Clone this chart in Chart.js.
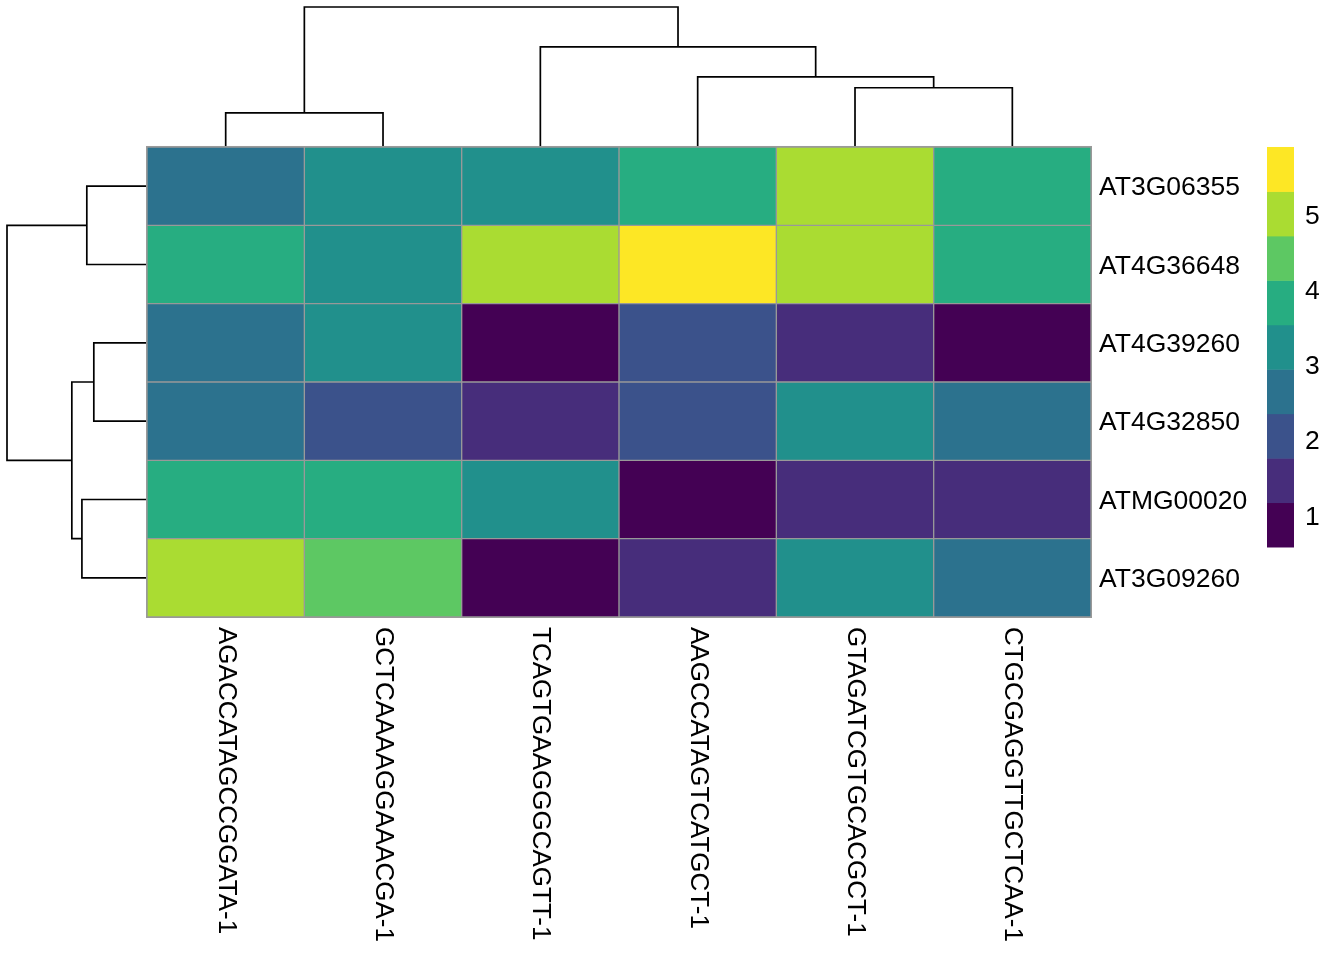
<!DOCTYPE html>
<html>
<head>
<meta charset="utf-8">
<title>Heatmap</title>
<script src="https://cdn.jsdelivr.net/npm/chart.js@4.4.1/dist/chart.umd.min.js"></script>
<style>
  html, body { margin: 0; padding: 0; background: #fff; }
  #wrap { width: 1344px; height: 960px; position: relative; }
</style>
</head>
<body>
<div id="wrap"><canvas id="heatmap"></canvas></div>
<script>
// row / column names in clustered order
const rowNames = ['AT3G06355', 'AT4G36648', 'AT4G39260', 'AT4G32850', 'ATMG00020', 'AT3G09260'];
const colNames = ['AGACCATAGCCGGATA-1', 'GCTCAAAAGGAAACGA-1', 'TCAGTGAAGGGCAGTT-1',
                  'AAGCCATAGTCATGCT-1', 'GTAGATCGTGCACGCT-1', 'CTGCGAGGTTGCTCAA-1'];

// values, one array per row (same order as colNames)
const rowAT3G06355 = [2.65, 3.25, 3.20, 3.90, 5.05, 3.85];
const rowAT4G36648 = [3.90, 3.30, 5.00, 5.92, 5.10, 3.80];
const rowAT4G39260 = [2.70, 3.20, 0.59, 2.00, 1.50, 0.69];
const rowAT4G32850 = [2.60, 2.10, 1.60, 2.05, 3.30, 2.70];
const rowATMG00020 = [3.85, 3.90, 3.25, 0.69, 1.50, 1.45];
const rowAT3G09260 = [5.00, 4.50, 0.69, 1.55, 3.30, 2.65];
const values = [rowAT3G06355, rowAT4G36648, rowAT4G39260, rowAT4G32850, rowATMG00020, rowAT3G09260];

// colour scale (9 viridis bins)
const scaleMin = 0.59;
const scaleMax = 5.92;
const binColors = ['#440154', '#472D7B', '#3B528B', '#2C728E', '#21908C', '#27AD81', '#5DC863', '#AADC32', '#FDE725'];
const legendTicks = [1, 2, 3, 4, 5];

// dendrograms, hclust style: negative = leaf (1-based, display order), positive = earlier merge
const colMerges = [[-1, -2], [-5, -6], [-4, 2], [-3, 3], [1, 4]];
const colHeights = [2.44, 4.23, 5.01, 7.15, 10.0];
const rowMerges = [[-3, -4], [-1, -2], [-5, -6], [1, 3], [2, 4]];
const rowHeights = [3.80, 4.30, 4.65, 5.37, 10.0];

const nRows = rowNames.length;
const nCols = colNames.length;
const topSpan = 1.787;   // room above the heatmap for the column tree (in row units)
const leftSpan = 0.89;   // room left of the heatmap for the row tree (in column units)
const FONT = '"Liberation Sans", Arial, Helvetica, sans-serif';
const GRID = '#999999';

function colorFor(v) {
  const w = (scaleMax - scaleMin) / binColors.length;
  let i = Math.floor((v - scaleMin) / w);
  i = Math.max(0, Math.min(binColors.length - 1, i));
  return binColors[i];
}

// heatmap cells as floating bars
const cells = [];
const cellColors = [];
values.forEach((row, r) => {
  row.forEach((v, c) => {
    cells.push({ x: c + 0.5, y: [nRows - r - 1, nRows - r], v: v });
    cellColors.push(colorFor(v));
  });
});

// turn a merge list into line segments (null points split the segments)
function dendroPoints(merges, heights, leafPos, span, project) {
  const root = heights[heights.length - 1];
  const pos = [];
  const hgt = [];
  const pts = [];
  merges.forEach((m, i) => {
    const kids = m.map(k => k < 0 ? { p: leafPos(-k - 1), h: 0 } : { p: pos[k - 1], h: hgt[k - 1] });
    const h = heights[i] / root * span;
    pts.push(project(kids[0].p, kids[0].h), project(kids[0].p, h),
             project(kids[1].p, h), project(kids[1].p, kids[1].h), { x: null, y: null });
    pos.push((kids[0].p + kids[1].p) / 2);
    hgt.push(h);
  });
  return pts;
}

const colTree = dendroPoints(colMerges, colHeights, k => k + 0.5, topSpan, (p, h) => ({ x: p, y: nRows + h }));
const rowTree = dendroPoints(rowMerges, rowHeights, k => nRows - k - 0.5, leftSpan, (p, h) => ({ x: -h, y: p }));

// column labels, outer frame and colour key
const decor = {
  id: 'decor',
  afterDraw(chart) {
    const ctx = chart.ctx;
    const xs = chart.scales.x;
    const ys = chart.scales.y;
    ctx.save();

    // outer half of the cell border on the heatmap edge
    const x0 = xs.getPixelForValue(0), x1 = xs.getPixelForValue(nCols);
    const y0 = ys.getPixelForValue(nRows), y1 = ys.getPixelForValue(0);
    ctx.strokeStyle = GRID;
    ctx.lineWidth = 1;
    ctx.strokeRect(x0 - 0.5, y0 - 0.5, x1 - x0 + 1, y1 - y0 + 1);

    ctx.fillStyle = '#000';
    ctx.font = '26px ' + FONT;
    colNames.forEach((name, i) => {
      ctx.save();
      ctx.translate(xs.getPixelForValue(i + 0.5), chart.chartArea.bottom + 10);
      ctx.rotate(Math.PI / 2);
      ctx.textAlign = 'left';
      ctx.textBaseline = 'middle';
      ctx.fillText(name, 0, 0);
      ctx.restore();
    });

    // legend
    const top = y0;
    const h = 400, left = 1267, w = 27;
    const toPx = v => top + h - (v - scaleMin) / (scaleMax - scaleMin) * h;
    const step = (scaleMax - scaleMin) / binColors.length;
    binColors.forEach((col, i) => {
      const b0 = toPx(scaleMin + step * (i + 1));
      const b1 = toPx(scaleMin + step * i);
      ctx.fillStyle = col;
      ctx.fillRect(left, b0, w, b1 - b0 + 0.5);
    });
    ctx.fillStyle = '#000';
    ctx.font = '26.5px ' + FONT;
    ctx.textAlign = 'left';
    ctx.textBaseline = 'middle';
    legendTicks.forEach(t => ctx.fillText(String(t), left + w + 11, toPx(t) + 1));
    ctx.restore();
  }
};

new Chart(document.getElementById('heatmap'), {
  type: 'bar',
  data: {
    datasets: [
      {
        type: 'line',
        data: colTree,
        borderColor: '#000',
        borderWidth: 1.7,
        pointRadius: 0,
        spanGaps: false,
        fill: false,
        clip: false
      },
      {
        type: 'line',
        data: rowTree,
        borderColor: '#000',
        borderWidth: 1.7,
        pointRadius: 0,
        spanGaps: false,
        fill: false,
        clip: false
      },
      {
        type: 'bar',
        data: cells,
        backgroundColor: cellColors,
        borderColor: GRID,
        borderWidth: 1,
        borderSkipped: false,
        barPercentage: 1,
        categoryPercentage: 1
      }
    ]
  },
  options: {
    responsive: true,
    maintainAspectRatio: false,
    animation: false,
    layout: { padding: { left: 7, top: 7, right: 0, bottom: 0 } },
    plugins: { legend: { display: false }, tooltip: { enabled: false } },
    scales: {
      x: {
        type: 'linear',
        min: -leftSpan,
        max: nCols,
        offset: false,
        afterBuildTicks: s => { s.ticks = colNames.map((_, i) => ({ value: i + 0.5 })); },
        afterFit: s => { s.height = 343; s.paddingLeft = 0; s.paddingRight = 0; },
        ticks: { display: false },
        grid: { display: false, drawTicks: false },
        border: { display: false }
      },
      y: {
        type: 'linear',
        position: 'right',
        min: 0,
        max: nRows + topSpan,
        afterBuildTicks: s => { s.ticks = rowNames.map((_, i) => ({ value: nRows - i - 0.5 })); },
        afterFit: s => { s.width = 253; s.paddingTop = 0; s.paddingBottom = 0; },
        ticks: {
          autoSkip: false,
          padding: 8,
          labelOffset: 2,
          color: '#000',
          font: { size: 26.5, family: FONT },
          callback: (v, i) => rowNames[i]
        },
        grid: { display: false, drawTicks: false },
        border: { display: false }
      }
    }
  },
  plugins: [decor]
});
</script>
</body>
</html>
